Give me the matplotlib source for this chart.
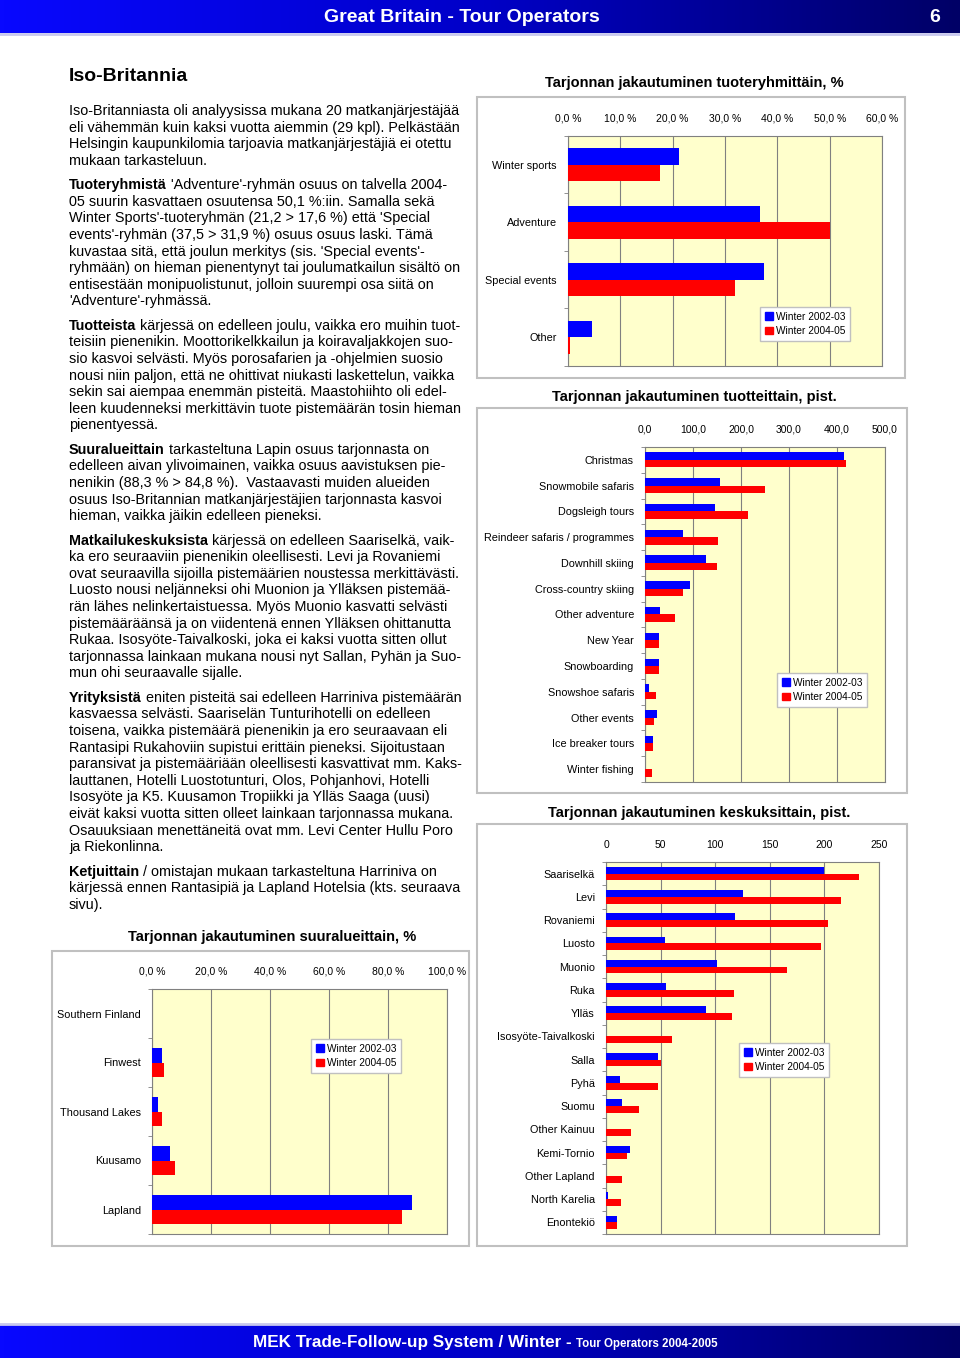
import numpy as np
import matplotlib.pyplot as plt
from matplotlib.patches import Rectangle, Patch
from matplotlib.colors import LinearSegmentedColormap

plt.rcParams['font.family'] = ['Liberation Sans', 'DejaVu Sans']

# ---- data ----
series = ['Winter 2002-03', 'Winter 2004-05']

groups = ['Winter sports', 'Adventure', 'Special events', 'Other']
groups_0203 = [21.2, 36.6, 37.5, 4.6]
groups_0405 = [17.6, 50.1, 31.9, 0.4]

products = ['Christmas', 'Snowmobile safaris', 'Dogsleigh tours', 'Reindeer safaris / programmes',
            'Downhill skiing', 'Cross-country skiing', 'Other adventure', 'New Year', 'Snowboarding',
            'Snowshoe safaris', 'Other events', 'Ice breaker tours', 'Winter fishing']
products_0203 = [414, 156, 146, 80, 128, 93, 32, 29, 29, 9, 24, 17, 0]
products_0405 = [419, 249, 214, 153, 151, 80, 62, 29, 29, 22, 19, 17, 15]

centres = ['Saariselkä', 'Levi', 'Rovaniemi', 'Luosto', 'Muonio', 'Ruka', 'Ylläs',
           'Isosyöte-Taivalkoski', 'Salla', 'Pyhä', 'Suomu', 'Other Kainuu', 'Kemi-Tornio',
           'Other Lapland', 'North Karelia', 'Enontekiö']
centres_0203 = [200, 125, 118, 54, 102, 55, 92, 0, 48, 13, 15, 0, 22, 0, 2, 10]
centres_0405 = [232, 215, 203, 197, 166, 117, 115, 60, 50, 48, 30, 23, 19.5, 15, 14, 10]

regions = ['Southern Finland', 'Finwest', 'Thousand Lakes', 'Kuusamo', 'Lapland']
regions_0203 = [0.0, 3.4, 2.0, 6.2, 88.3]
regions_0405 = [0.0, 4.2, 3.3, 7.9, 84.8]

paragraphs = [
    (None, ["Iso-Britanniasta oli analyysissa mukana 20 matkanjärjestäjää",
            "eli vähemmän kuin kaksi vuotta aiemmin (29 kpl). Pelkästään",
            "Helsingin kaupunkilomia tarjoavia matkanjärjestäjiä ei otettu",
            "mukaan tarkasteluun."]),
    ("Tuoteryhmistä", [" 'Adventure'-ryhmän osuus on talvella 2004-",
                       "05 suurin kasvattaen osuutensa 50,1 %:iin. Samalla sekä",
                       "Winter Sports'-tuoteryhmän (21,2 > 17,6 %) että 'Special",
                       "events'-ryhmän (37,5 > 31,9 %) osuus osuus laski. Tämä",
                       "kuvastaa sitä, että joulun merkitys (sis. 'Special events'-",
                       "ryhmään) on hieman pienentynyt tai joulumatkailun sisältö on",
                       "entisestään monipuolistunut, jolloin suurempi osa siitä on",
                       "'Adventure'-ryhmässä."]),
    ("Tuotteista", [" kärjessä on edelleen joulu, vaikka ero muihin tuot-",
                    "teisiin pienenikin. Moottorikelkkailun ja koiravaljakkojen suo-",
                    "sio kasvoi selvästi. Myös porosafarien ja -ohjelmien suosio",
                    "nousi niin paljon, että ne ohittivat niukasti laskettelun, vaikka",
                    "sekin sai aiempaa enemmän pisteitä. Maastohiihto oli edel-",
                    "leen kuudenneksi merkittävin tuote pistemäärän tosin hieman",
                    "pienentyessä."]),
    ("Suuralueittain", [" tarkasteltuna Lapin osuus tarjonnasta on",
                        "edelleen aivan ylivoimainen, vaikka osuus aavistuksen pie-",
                        "nenikin (88,3 % > 84,8 %).  Vastaavasti muiden alueiden",
                        "osuus Iso-Britannian matkanjärjestäjien tarjonnasta kasvoi",
                        "hieman, vaikka jäikin edelleen pieneksi."]),
    ("Matkailukeskuksista", [" kärjessä on edelleen Saariselkä, vaik-",
                             "ka ero seuraaviin pienenikin oleellisesti. Levi ja Rovaniemi",
                             "ovat seuraavilla sijoilla pistemäärien noustessa merkittävästi.",
                             "Luosto nousi neljänneksi ohi Muonion ja Ylläksen pistemää-",
                             "rän lähes nelinkertaistuessa. Myös Muonio kasvatti selvästi",
                             "pistemääräänsä ja on viidentenä ennen Ylläksen ohittanutta",
                             "Rukaa. Isosyöte-Taivalkoski, joka ei kaksi vuotta sitten ollut",
                             "tarjonnassa lainkaan mukana nousi nyt Sallan, Pyhän ja Suo-",
                             "mun ohi seuraavalle sijalle."]),
    ("Yrityksistä", [" eniten pisteitä sai edelleen Harriniva pistemäärän",
                     "kasvaessa selvästi. Saariselän Tunturihotelli on edelleen",
                     "toisena, vaikka pistemäärä pienenikin ja ero seuraavaan eli",
                     "Rantasipi Rukahoviin supistui erittäin pieneksi. Sijoitustaan",
                     "paransivat ja pistemääriään oleellisesti kasvattivat mm. Kaks-",
                     "lauttanen, Hotelli Luostotunturi, Olos, Pohjanhovi, Hotelli",
                     "Isosyöte ja K5. Kuusamon Tropiikki ja Ylläs Saaga (uusi)",
                     "eivät kaksi vuotta sitten olleet lainkaan tarjonnassa mukana.",
                     "Osauuksiaan menettäneitä ovat mm. Levi Center Hullu Poro",
                     "ja Riekonlinna."]),
    ("Ketjuittain", [" / omistajan mukaan tarkasteltuna Harriniva on",
                     "kärjessä ennen Rantasipiä ja Lapland Hotelsia (kts. seuraava",
                     "sivu)."]),
]

W, H = 960, 1358
BLUE, RED = '#0000ff', '#ff0000'

fig = plt.figure(figsize=(9.6, 13.58), dpi=100)
page = fig.add_axes([0, 0, 1, 1], zorder=0)
renderer = fig.canvas.get_renderer()

# header / footer bands
band = LinearSegmentedColormap.from_list('band', ['#0808ff', '#0000c8', '#000066'])
grad = np.linspace(0, 1, 256).reshape(1, -1)
page.imshow(grad, extent=(0, W, 33, 0), cmap=band, aspect='auto')
page.imshow(grad, extent=(0, W, H, 1325), cmap=band, aspect='auto')
page.set_xlim(0, W)
page.set_ylim(H, 0)
page.axis('off')
page.plot([0, W], [34, 34], color='#c8c8ee', lw=2)
page.plot([0, W], [1324, 1324], color='#c8c8ee', lw=2)

page.text(462, 17, 'Great Britain - Tour Operators', color='white', fontsize=14,
          fontweight='bold', ha='center', va='center')
page.text(935, 17, '6', color='white', fontsize=14, fontweight='bold',
          ha='center', va='center')


def text_end(t):
    bb = t.get_window_extent(renderer=renderer)
    return page.transData.inverted().transform((bb.x1, bb.y0))[0]


t = page.text(253, 1347, 'MEK Trade-Follow-up System / Winter - ', color='white', fontsize=12.3,
              fontweight='bold', va='baseline')
page.text(text_end(t), 1347, 'Tour Operators 2004-2005', color='white', fontsize=8.3,
          fontweight='bold', va='baseline')

# text column
FS = 10.4
page.text(69, 81, 'Iso-Britannia', fontsize=14, fontweight='bold', va='baseline')
y = 115
for bold, lines in paragraphs:
    for i, line in enumerate(lines):
        x = 69
        if i == 0 and bold:
            b = page.text(x, y, bold, fontsize=FS, fontweight='bold', va='baseline')
            x = text_end(b)
        page.text(x, y, line, fontsize=FS, va='baseline')
        y += 16.6
    y += 7.8


def px_axes(x0, y0, x1, y1):
    return fig.add_axes([x0 / W, 1 - y1 / H, (x1 - x0) / W, (y1 - y0) / H], zorder=2)


def bar_chart(box, plot, title, title_xy, cats, v1, v2, ticks, fmt, legend_xy):
    page.add_patch(Rectangle((box[0], box[1]), box[2] - box[0], box[3] - box[1],
                             fill=False, ec='#c0c0c0', lw=1.5))
    page.text(title_xy[0], title_xy[1], title, ha='center', va='center',
              fontsize=10.5, fontweight='bold')
    ax = px_axes(*plot)
    ax.set_facecolor('#ffffcc')
    pos = np.arange(len(cats))
    h = 0.29
    ax.barh(pos - h / 2, v1, height=h, color=BLUE, zorder=3)
    ax.barh(pos + h / 2, v2, height=h, color=RED, zorder=3)
    ax.set_ylim(len(cats) - 0.5, -0.5)
    ax.set_xlim(ticks[0], ticks[-1])
    ax.set_xticks(ticks)
    ax.set_xticklabels([fmt(v) for v in ticks])
    ax.xaxis.tick_top()
    ax.tick_params(axis='x', length=0, pad=9, labelsize=7.5)
    ax.set_yticks(pos)
    ax.set_yticklabels(cats)
    ax.set_yticks(np.arange(len(cats) + 1) - 0.5, minor=True)
    ax.tick_params(axis='y', which='major', length=0, pad=8, labelsize=7.8)
    ax.tick_params(axis='y', which='minor', length=3, color='#808080')
    ax.grid(axis='x', color='#808080', lw=0.8)
    ax.set_axisbelow(True)
    for s in ax.spines.values():
        s.set_color('#808080')
    handles = [Patch(color=BLUE, label=series[0]), Patch(color=RED, label=series[1])]
    leg = ax.legend(handles=handles, loc='upper left',
                    bbox_to_anchor=(legend_xy[0] / W, 1 - legend_xy[1] / H),
                    bbox_transform=fig.transFigure, fontsize=7.3, frameon=True, fancybox=False,
                    edgecolor='#c0c0c0', framealpha=1, handlelength=0.8, handleheight=0.8,
                    handletextpad=0.3, borderpad=0.45, labelspacing=0.45, borderaxespad=0)
    leg.get_frame().set_linewidth(1)
    return ax


def pct(v):
    return f'{v:.1f} %'.replace('.', ',')


def dec(v):
    return f'{v:.1f}'.replace('.', ',')


bar_chart((477, 97, 905, 378), (568, 136, 882, 366),
          'Tarjonnan jakautuminen tuoteryhmittäin, %', (694, 83),
          groups, groups_0203, groups_0405, np.arange(0, 61, 10), pct, (760, 307))

bar_chart((477, 408, 907, 793), (645, 447, 885, 782),
          'Tarjonnan jakautuminen tuotteittain, pist.', (694, 397),
          products, products_0203, products_0405, np.arange(0, 501, 100), dec, (777, 673))

bar_chart((477, 824, 907, 1246), (606, 862, 879, 1234),
          'Tarjonnan jakautuminen keskuksittain, pist.', (699, 813),
          centres, centres_0203, centres_0405, np.arange(0, 251, 50), lambda v: f'{v:d}', (739, 1043))

bar_chart((52, 951, 469, 1246), (152, 989, 447, 1234),
          'Tarjonnan jakautuminen suuralueittain, %', (272, 937),
          regions, regions_0203, regions_0405, np.arange(0, 101, 20), pct, (311, 1039))

fig.savefig('out.png', dpi=100)
